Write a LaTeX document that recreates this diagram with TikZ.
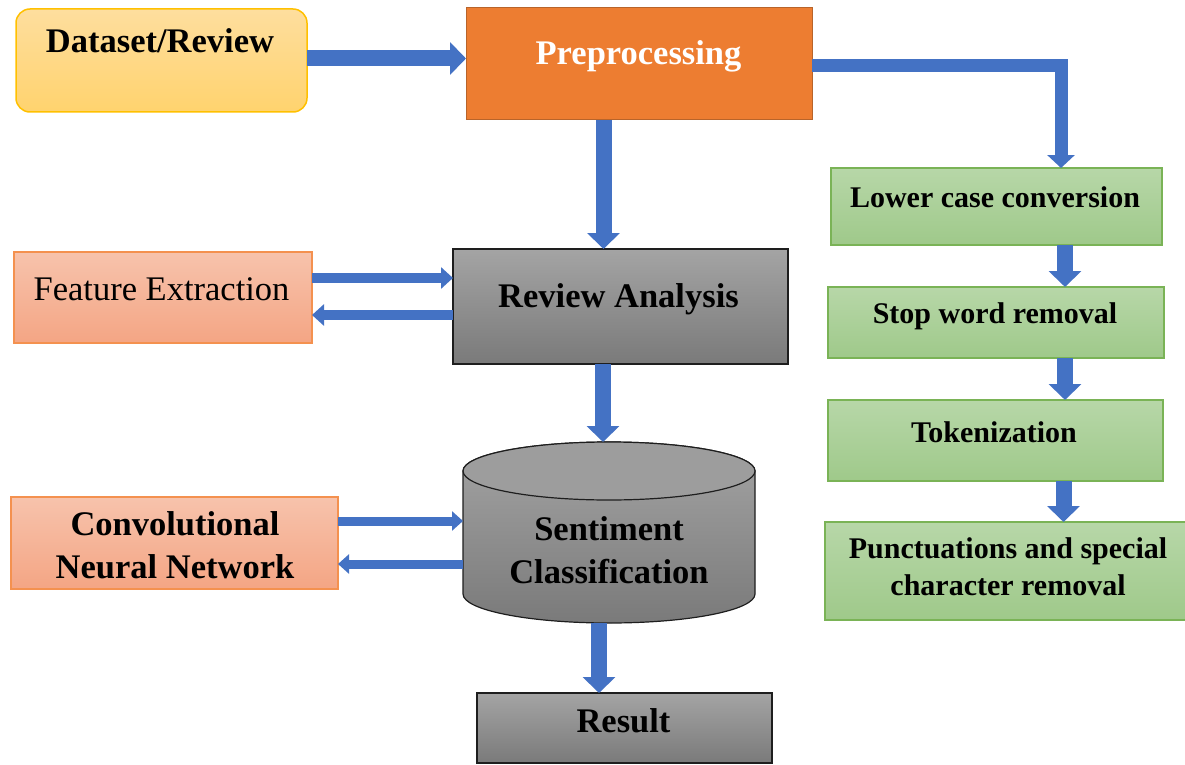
\documentclass[tikz,border=0pt]{standalone}
\usepackage{fontspec}
\setmainfont{Liberation Serif}
\usetikzlibrary{arrows.meta,calc}

\definecolor{flowblue}{HTML}{4472C4}
\definecolor{yelTop}{HTML}{FEDE9E}
\definecolor{yelBot}{HTML}{FFD36E}
\definecolor{yelLine}{HTML}{FFC000}
\definecolor{orgFill}{HTML}{ED7D31}
\definecolor{orgLine}{HTML}{B8642A}
\definecolor{salTop}{HTML}{F7C3AC}
\definecolor{salBot}{HTML}{F4A584}
\definecolor{salLine}{HTML}{F4914F}
\definecolor{grnTop}{HTML}{B7D7A8}
\definecolor{grnBot}{HTML}{9FC98A}
\definecolor{grnLine}{HTML}{7AB356}
\definecolor{gryTop}{HTML}{A4A4A4}
\definecolor{gryBot}{HTML}{7A7A7A}
\definecolor{gryLine}{HTML}{1E1E1E}

\tikzset{
  box/.style={rectangle, inner sep=0pt, outer sep=0pt, line width=1.5pt},
  yellowbox/.style={box, draw=yelLine, top color=yelTop, bottom color=yelBot, rounded corners=14pt},
  orangebox/.style={box, draw=orgLine, fill=orgFill, line width=1pt},
  salmonbox/.style={box, draw=salLine, top color=salTop, bottom color=salBot},
  greenbox/.style={box, draw=grnLine, top color=grnTop, bottom color=grnBot},
  graybox/.style={box, draw=gryLine, top color=gryTop, bottom color=gryBot},
  lbl/.style={inner sep=0pt, outer sep=0pt, anchor=base,
    font=\fontsize{34.5}{40}\selectfont\bfseries},
  lblthin/.style={lbl, font=\fontsize{34.5}{40}\selectfont},
  lblgreen/.style={lbl, font=\fontsize{30}{36}\selectfont\bfseries},
  bigflow/.style={draw=flowblue, line width=16pt,
    -{Triangle[width=32pt,length=16pt]}},
  elbowflow/.style={draw=flowblue, line width=13pt, line join=miter,
    -{Triangle[width=27pt,length=13pt]}},
  sideflow/.style={draw=flowblue, line width=10pt,
    -{Triangle[width=21pt,length=12pt]}},
  cnnflow/.style={draw=flowblue, line width=9pt,
    -{Triangle[width=19pt,length=11pt]}},
}

\begin{document}
\begin{tikzpicture}[x=1pt,y=-1pt]
\useasboundingbox (0,0) rectangle (1185,765);

% --- main column -------------------------------------------------------
\node[yellowbox, minimum width=291pt, minimum height=103pt] (ds) at (161.5,60.5) {};
\node[lbl] (dsT) at (160,53) {Dataset/Review};

\node[orangebox, minimum width=346pt, minimum height=112pt] (pp) at (639,64) {};
\node[lbl, text=white] (ppT) at (638.5,65) {Preprocessing};

\node[graybox, minimum width=335pt, minimum height=115pt] (ra) at (620.5,306.5) {};
\node[lbl] (raT) at (618.5,307) {Review Analysis};

% cylinder for the classifier
\node[inner sep=0pt, outer sep=0pt, minimum width=292pt, minimum height=181pt] (sc) at (609,532.5) {};
\path[draw=gryLine, line width=1.2pt, top color=gryTop, bottom color=gryBot]
  ($(sc.west)+(0,-61.5)$) -- ($(sc.west)+(0,61.5)$)
  arc[start angle=180, end angle=360, x radius=146pt, y radius=29pt]
  -- ($(sc.east)+(0,-61.5)$)
  arc[start angle=0, end angle=180, x radius=146pt, y radius=29pt] -- cycle;
\draw[draw=gryLine, line width=1.2pt, fill=gryTop!96!black]
  ($(sc.center)+(0,-61.5)$) ellipse[x radius=146pt, y radius=29pt];
\node[lbl] (scT1) at (609,540) {Sentiment};
\node[lbl] (scT2) at (609,583) {Classification};

\node[graybox, minimum width=295pt, minimum height=70pt] (res) at (624.5,728) {};
\node[lbl] (resT) at (623.5,732) {Result};

% --- side boxes ---------------------------------------------------------
\node[salmonbox, minimum width=298pt, minimum height=91pt] (fe) at (163,297.5) {};
\node[lblthin] (feT) at (161.5,300) {Feature Extraction};

\node[salmonbox, minimum width=327pt, minimum height=92pt] (cnn) at (174.5,543) {};
\node[lbl] (cnnT1) at (175,535) {Convolutional};
\node[lbl] (cnnT2) at (175,578) {Neural Network};

% --- preprocessing steps --------------------------------------------------
\node[greenbox, minimum width=331pt, minimum height=77pt] (lc) at (996.5,206.5) {};
\node[lblgreen] (lcT) at (995,207) {Lower case conversion};

\node[greenbox, minimum width=336pt, minimum height=71pt] (sw) at (996,322.5) {};
\node[lblgreen] (swT) at (995,323) {Stop word removal};

\node[greenbox, minimum width=335pt, minimum height=81pt] (tk) at (995.5,440.5) {};
\node[lblgreen] (tkT) at (994,442) {Tokenization};

\node[greenbox, minimum width=362pt, minimum height=98pt] (pc) at (1006,571) {};
\node[lblgreen] (pcT1) at (1008,558) {Punctuations and special};
\node[lblgreen] (pcT2) at (1008,595) {character removal};

% --- connectors -----------------------------------------------------------
\draw[bigflow] ([yshift=2pt]ds.east) -- ([yshift=2pt]ds.east -| pp.west);
\draw[bigflow] ([xshift=-35.5pt]pp.south) -- ([xshift=-35.5pt]pp.south |- ra.north);
\draw[bigflow] ([xshift=-17.5pt]ra.south) -- ([xshift=-17.5pt]ra.south |- sc.north);
\draw[bigflow] ([xshift=-10pt]sc.south) -- ([xshift=-10pt]sc.south |- res.north);

\draw[sideflow] ([yshift=19.5pt]fe.east) -- ([yshift=19.5pt]fe.east -| ra.west);
\draw[sideflow] ([yshift=-17.5pt]fe.east -| ra.west) -- ([yshift=-17.5pt]fe.east);

\draw[cnnflow] ([yshift=22pt]cnn.east) -- ([yshift=22pt]cnn.east -| sc.west);
\draw[cnnflow] ([yshift=-21pt]cnn.east -| sc.west) -- ([yshift=-21pt]cnn.east);

\draw[elbowflow] ([yshift=-1.5pt]pp.east) -| ([xshift=64.5pt]lc.north);
\draw[bigflow] ([xshift=68.5pt]lc.south) -- ([xshift=68.5pt]lc.south |- sw.north);
\draw[bigflow] ([xshift=69pt]sw.south) -- ([xshift=69pt]sw.south |- tk.north);
\draw[bigflow] ([xshift=68pt]tk.south) -- ([xshift=68pt]tk.south |- pc.north);
\end{tikzpicture}
\end{document}
